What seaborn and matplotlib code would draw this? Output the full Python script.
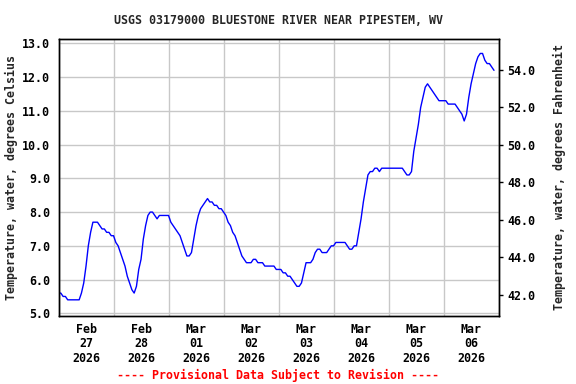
import matplotlib
matplotlib.use('Agg')
import matplotlib.pyplot as plt
import seaborn as sns
import pandas as pd

# hourly water temperature, deg C, from 2026-02-27 00:00
feb27 = [5.6, 5.6, 5.5, 5.5, 5.4, 5.4, 5.4, 5.4, 5.4, 5.4, 5.6, 5.9,
         6.4, 7.0, 7.4, 7.7, 7.7, 7.7, 7.6, 7.5, 7.5, 7.4, 7.4, 7.3]
feb28 = [7.3, 7.1, 7.0, 6.8, 6.6, 6.4, 6.1, 5.9, 5.7, 5.6, 5.8, 6.3,
         6.6, 7.2, 7.6, 7.9, 8.0, 8.0, 7.9, 7.8, 7.9, 7.9, 7.9, 7.9]
mar01 = [7.9, 7.7, 7.6, 7.5, 7.4, 7.3, 7.1, 6.9, 6.7, 6.7, 6.8, 7.2,
         7.6, 7.9, 8.1, 8.2, 8.3, 8.4, 8.3, 8.3, 8.2, 8.2, 8.1, 8.1]
mar02 = [8.0, 7.9, 7.7, 7.6, 7.4, 7.3, 7.1, 6.9, 6.7, 6.6, 6.5, 6.5,
         6.5, 6.6, 6.6, 6.5, 6.5, 6.5, 6.4, 6.4, 6.4, 6.4, 6.4, 6.3]
mar03 = [6.3, 6.3, 6.2, 6.2, 6.1, 6.1, 6.0, 5.9, 5.8, 5.8, 5.9, 6.2,
         6.5, 6.5, 6.5, 6.6, 6.8, 6.9, 6.9, 6.8, 6.8, 6.8, 6.9, 7.0]
mar04 = [7.0, 7.1, 7.1, 7.1, 7.1, 7.1, 7.0, 6.9, 6.9, 7.0, 7.0, 7.4,
         7.8, 8.3, 8.7, 9.1, 9.2, 9.2, 9.3, 9.3, 9.2, 9.3, 9.3, 9.3]
mar05 = [9.3, 9.3, 9.3, 9.3, 9.3, 9.3, 9.3, 9.2, 9.1, 9.1, 9.2, 9.8,
         10.2, 10.6, 11.1, 11.4, 11.7, 11.8, 11.7, 11.6, 11.5, 11.4, 11.3, 11.3]
mar06 = [11.3, 11.3, 11.2, 11.2, 11.2, 11.2, 11.1, 11.0, 10.9, 10.7, 10.9, 11.4,
         11.8, 12.1, 12.4, 12.6, 12.7, 12.7, 12.5, 12.4, 12.4, 12.3, 12.2]

day_labels = ['Feb\n27\n2026', 'Feb\n28\n2026', 'Mar\n01\n2026', 'Mar\n02\n2026',
              'Mar\n03\n2026', 'Mar\n04\n2026', 'Mar\n05\n2026', 'Mar\n06\n2026']
c_ticks = [5.0, 6.0, 7.0, 8.0, 9.0, 10.0, 11.0, 12.0, 13.0]
f_ticks = [42.0, 44.0, 46.0, 48.0, 50.0, 52.0, 54.0]

title = 'USGS 03179000 BLUESTONE RIVER NEAR PIPESTEM, WV'
footer = '---- Provisional Data Subject to Revision ----'


def main():
    sns.set_theme(style='white')
    plt.rcParams['font.family'] = ['DejaVu Sans Mono']
    plt.rcParams['font.weight'] = 'bold'
    fs = 8.4

    temps = feb27 + feb28 + mar01 + mar02 + mar03 + mar04 + mar05 + mar06
    times = pd.date_range('2026-02-27 00:00', periods=len(temps), freq='h')
    df = pd.DataFrame({'time': times, 'temp': temps})

    fig = plt.figure(figsize=(5.76, 3.84), dpi=100)
    ax = fig.add_axes([0.1016, 0.1779, 0.764, 0.7198])
    sns.lineplot(x='time', y='temp', data=df, ax=ax, color='#0000ff', linewidth=1)

    start = pd.Timestamp('2026-02-27')
    ax.set_xlim(start, start + pd.Timedelta(days=8))
    ax.set_ylim(4.93, 13.12)

    days = pd.date_range(start, periods=9, freq='D')
    noons = days[:-1] + pd.Timedelta(hours=12)
    ax.set_xticks(days)
    ax.set_xticklabels([])
    ax.set_xticks(noons, minor=True)
    ax.set_xticklabels(day_labels, minor=True, fontsize=fs, fontweight='bold',
                       linespacing=1.15)
    ax.set_yticks(c_ticks)
    ax.set_yticklabels([f'{v:.1f}' for v in c_ticks], fontsize=fs, fontweight='bold')
    ax.tick_params(axis='both', which='both', length=0, colors='black')
    ax.tick_params(axis='x', which='minor', pad=5)
    ax.tick_params(axis='y', pad=6)
    ax.grid(True, which='major', color='#c8c8c8', linewidth=1)
    ax.set_axisbelow(True)
    for s in ax.spines.values():
        s.set_color('black')
        s.set_linewidth(1)
    ax.set_xlabel('')
    ax.set_ylabel('Temperature, water, degrees Celsius', fontsize=fs,
                  fontweight='bold', labelpad=3)

    ax2 = ax.twinx()
    ax2.set_ylim(4.93 * 1.8 + 32, 13.12 * 1.8 + 32)
    ax2.set_yticks(f_ticks)
    ax2.set_yticklabels([f'{v:.1f}' for v in f_ticks], fontsize=fs, fontweight='bold')
    ax2.tick_params(axis='y', length=3, width=1, pad=3, colors='black', direction='out')
    ax2.grid(False)
    ax2.set_ylabel('Temperature, water, degrees Fahrenheit', fontsize=fs,
                   fontweight='bold', labelpad=13)
    for s in ax2.spines.values():
        s.set_color('black')
        s.set_linewidth(1)

    fig.text(0.483, 0.946, title, ha='center', va='center', fontsize=fs,
             fontweight='bold')
    fig.text(0.483, 0.023, footer, ha='center', va='center', fontsize=fs,
             fontweight='bold', color='#ff0000')

    fig.savefig('out.png', dpi=100, facecolor='white')


if __name__ == '__main__':
    main()
